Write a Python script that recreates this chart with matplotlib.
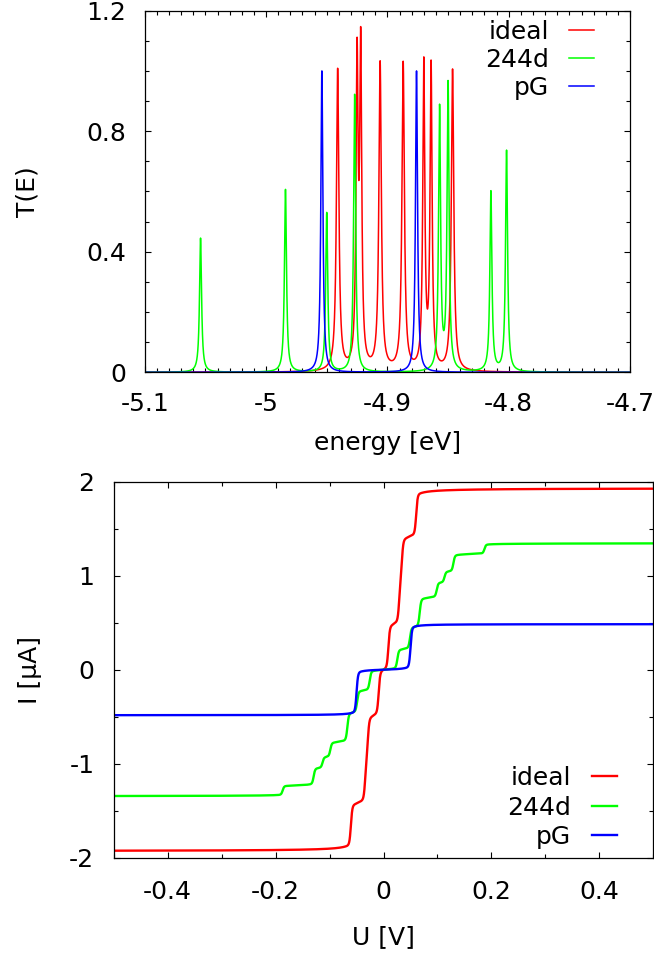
import numpy as np
import matplotlib
matplotlib.use("Agg")
import matplotlib.pyplot as plt
from matplotlib.ticker import MultipleLocator, FuncFormatter

plt.rcParams['font.family'] = ['DejaVu Sans']
plt.rcParams['font.size'] = 18

labels = ["ideal", "244d", "pG"]
colors = ["#ff0000", "#00ff00", "#0000ff"]

# transmission resonances: centre [eV], height, half width [eV]
ideal_E = [-4.941, -4.925, -4.922, -4.906, -4.887, -4.870, -4.864, -4.8463]
ideal_T = [1.00, 0.996, 1.035, 1.02, 1.02, 1.01, 1.00, 1.00]
ideal_g = [0.0012, 0.001, 0.001, 0.0012, 0.0012, 0.001, 0.001, 0.0012]

d244_E = [-5.054, -4.984, -4.950, -4.927, -4.857, -4.850, -4.8147, -4.8018]
d244_T = [0.445, 0.606, 0.528, 0.921, 0.870, 0.950, 0.597, 0.733]
d244_g = [0.001, 0.001, 0.001, 0.001, 0.001, 0.001, 0.001, 0.001]

pG_E = [-4.954, -4.876]
pG_T = [1.00, 1.00]
pG_g = [0.001, 0.001]

# current steps for U > 0 (curve is antisymmetric): step voltage [V], jump [uA]
ideal_U = [0.009, 0.029, 0.034, 0.0605]
ideal_dI = [0.49, 0.48, 0.48, 0.48]

d244_U = [0.0256, 0.049, 0.067, 0.0986, 0.113, 0.1295, 0.187]
d244_dI = [0.217, 0.24, 0.32, 0.16, 0.12, 0.185, 0.105]

pG_U = [0.050]
pG_dI = [0.485]


def transmission(E, centres, heights, widths):
    T = np.zeros_like(E)
    for e0, h, g in zip(centres, heights, widths):
        T += h * g**2 / ((E - e0)**2 + g**2)
    return T


def step(x, w=0.0013, gam=0.012, m=0.15):
    return (1 - m) / (1 + np.exp(-x / w)) + m * (0.5 + np.arctan(x / gam) / np.pi)


def current(U, volts, jumps):
    I = np.zeros_like(U)
    for v, a in zip(volts, jumps):
        I += a * (step(U - v) - step(-U - v))
    return I


E = np.linspace(-5.1, -4.7, 16001)
U = np.linspace(-0.5, 0.5, 8001)

T_sets = [(ideal_E, ideal_T, ideal_g), (d244_E, d244_T, d244_g), (pG_E, pG_T, pG_g)]
I_sets = [(ideal_U, ideal_dI), (d244_U, d244_dI), (pG_U, pG_dI)]

fmt = FuncFormatter(lambda v, p: "%g" % round(v, 6))

fig = plt.figure(figsize=(6.54, 9.55), dpi=100)

# --- top: transmission
ax1 = fig.add_axes([0.2213, 0.6102, 0.7421, 0.3786])
for (c, h, g), lab, col in zip(T_sets, labels, colors):
    ax1.plot(E, transmission(E, c, h, g), color=col, lw=1.1, label=lab)
ax1.set_xlim(-5.1, -4.7)
ax1.set_ylim(0, 1.2)
ax1.xaxis.set_major_locator(MultipleLocator(0.1))
ax1.xaxis.set_minor_locator(MultipleLocator(0.01))
ax1.yaxis.set_major_locator(MultipleLocator(0.4))
ax1.yaxis.set_minor_locator(MultipleLocator(0.1))
ax1.set_xlabel("energy [eV]")
ax1.set_ylabel("T(E)", va="center")
ax1.xaxis.set_label_coords(0.5, -0.162)
ax1.yaxis.set_label_coords(-0.2415, 0.5)
ax1.tick_params(axis='x', which='major', pad=14)
ax1.tick_params(axis='y', which='major', pad=13.5)
ax1.legend(loc='upper right', bbox_to_anchor=(0.926, 0.975), markerfirst=False,
           frameon=False, handlelength=1.0, handletextpad=0.8, labelspacing=0.16,
           borderpad=0, borderaxespad=0)

# --- bottom: I-V
ax2 = fig.add_axes([0.1739, 0.1019, 0.8251, 0.3937])
for (v, a), lab, col in zip(I_sets, labels, colors):
    ax2.plot(U, current(U, v, a), color=col, lw=1.7, label=lab)
ax2.set_xlim(-0.5, 0.5)
ax2.set_ylim(-2, 2)
ax2.xaxis.set_major_locator(MultipleLocator(0.2))
ax2.xaxis.set_minor_locator(MultipleLocator(0.1))
ax2.yaxis.set_major_locator(MultipleLocator(1))
ax2.yaxis.set_minor_locator(MultipleLocator(0.5))
ax2.set_xlabel("U [V]")
ax2.set_ylabel("I [µA]", va="center")
ax2.xaxis.set_label_coords(0.5, -0.18)
ax2.yaxis.set_label_coords(-0.155, 0.5)
ax2.tick_params(axis='x', which='major', pad=16)
ax2.tick_params(axis='y', which='major', pad=14)
ax2.legend(loc='lower right', bbox_to_anchor=(0.932, 0.023), markerfirst=False,
           frameon=False, handlelength=1.0, handletextpad=0.83, labelspacing=0.22,
           borderpad=0, borderaxespad=0)

for ax in (ax1, ax2):
    ax.xaxis.set_major_formatter(fmt)
    ax.yaxis.set_major_formatter(fmt)
    ax.tick_params(which='both', direction='in', top=True, right=True, width=0.8,
                   colors='black')
    ax.tick_params(which='major', length=4.5)
    ax.tick_params(which='minor', length=2.6)
    for s in ax.spines.values():
        s.set_linewidth(0.9)

fig.savefig("out.png", dpi=100)
